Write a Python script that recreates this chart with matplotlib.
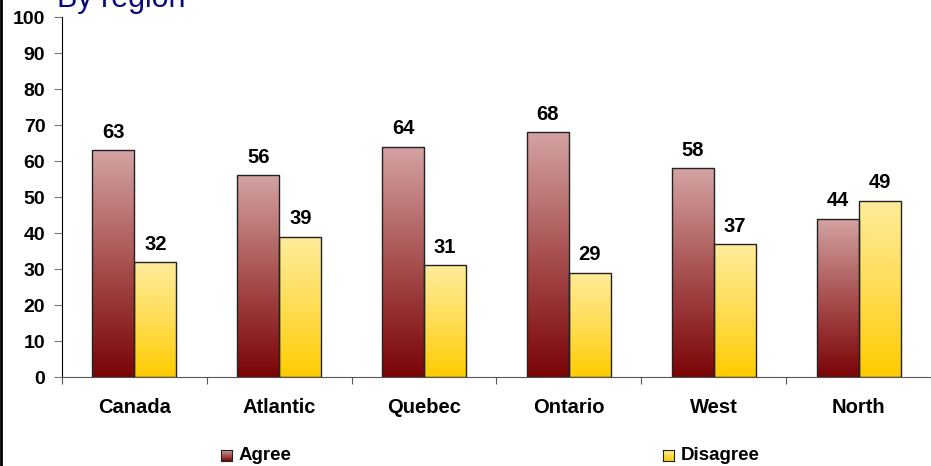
import numpy as np
import matplotlib
matplotlib.use("Agg")
import matplotlib.pyplot as plt
from matplotlib.colors import LinearSegmentedColormap
from matplotlib.patches import Rectangle

plt.rcParams['font.family'] = ['Liberation Sans', 'DejaVu Sans']

regions = ["Canada", "Atlantic", "Quebec", "Ontario", "West", "North"]
agree = [63, 56, 64, 68, 58, 44]
disagree = [32, 39, 31, 29, 37, 49]
series_names = ["Agree", "Disagree"]

red_cmap = LinearSegmentedColormap.from_list("red", ["#7a0406", "#a85050", "#d4a3a3"])
yel_cmap = LinearSegmentedColormap.from_list("yel", ["#ffcc00", "#ffdd55", "#ffec9c"])

fig = plt.figure(figsize=(9.31, 4.66), dpi=100)
ax = fig.add_axes([62 / 931, 89 / 466, 1 - 62 / 931, 360 / 466])

grad = np.linspace(0, 1, 256).reshape(-1, 1)
w = 0.29


def grad_bar(x0, h, cmap):
    im = ax.imshow(grad, cmap=cmap, origin="lower", aspect="auto",
                   extent=[x0, x0 + w, 0, h], zorder=2)
    rect = Rectangle((x0, 0), w, h, facecolor="none", edgecolor="#222222",
                     linewidth=1.0, zorder=3)
    ax.add_patch(rect)
    im.set_clip_path(rect)
    ax.text(x0 + w / 2, h + 2.3, str(h), ha="center", va="bottom",
            fontsize=14.5, fontweight="bold")


for i, (a, d) in enumerate(zip(agree, disagree)):
    c = i + 0.5
    grad_bar(c - w, a, red_cmap)
    grad_bar(c, d, yel_cmap)

ax.set_xlim(0, 6)
ax.set_ylim(0, 100)
ax.set_yticks(range(0, 101, 10))
ax.set_yticklabels([str(v) for v in range(0, 101, 10)], fontsize=14, fontweight="bold")
ax.set_xticks(range(0, 7))
ax.set_xticklabels([])
ax.set_xticks([i + 0.5 for i in range(6)], minor=True)
ax.set_xticklabels(regions, minor=True, fontsize=14.5, fontweight="bold")
ax.tick_params(axis="x", which="minor", length=0, pad=15)
ax.tick_params(axis="x", which="major", direction="out", length=5, color="#555555")
ax.tick_params(axis="y", direction="out", length=6, color="#777777", pad=6)
for s in ["top", "right"]:
    ax.spines[s].set_visible(False)
ax.spines["left"].set_color("black")
ax.spines["bottom"].set_color("#555555")

# title, cut off at the top
fig.text(57 / 931, 1 - 7 / 466, "By region", fontsize=22, color="#0a0a80",
         ha="left", va="baseline")

# left border line
fig.add_artist(plt.Line2D([0.0015, 0.0015], [0, 1], color="black", linewidth=2))

# legend
for name, cmap, lx in [(series_names[0], red_cmap, 221), (series_names[1], yel_cmap, 663)]:
    lax = fig.add_axes([lx / 931, (466 - 461) / 466, 11 / 931, 11 / 466])
    lax.imshow(grad, cmap=cmap, origin="lower", aspect="auto", extent=[0, 1, 0, 1])
    lax.set_xticks([])
    lax.set_yticks([])
    for sp in lax.spines.values():
        sp.set_color("#222222")
    fig.text((lx + 18) / 931, (466 - 455) / 466, name, fontsize=13.5, fontweight="bold",
             ha="left", va="center")

fig.savefig("out.png", dpi=100)
